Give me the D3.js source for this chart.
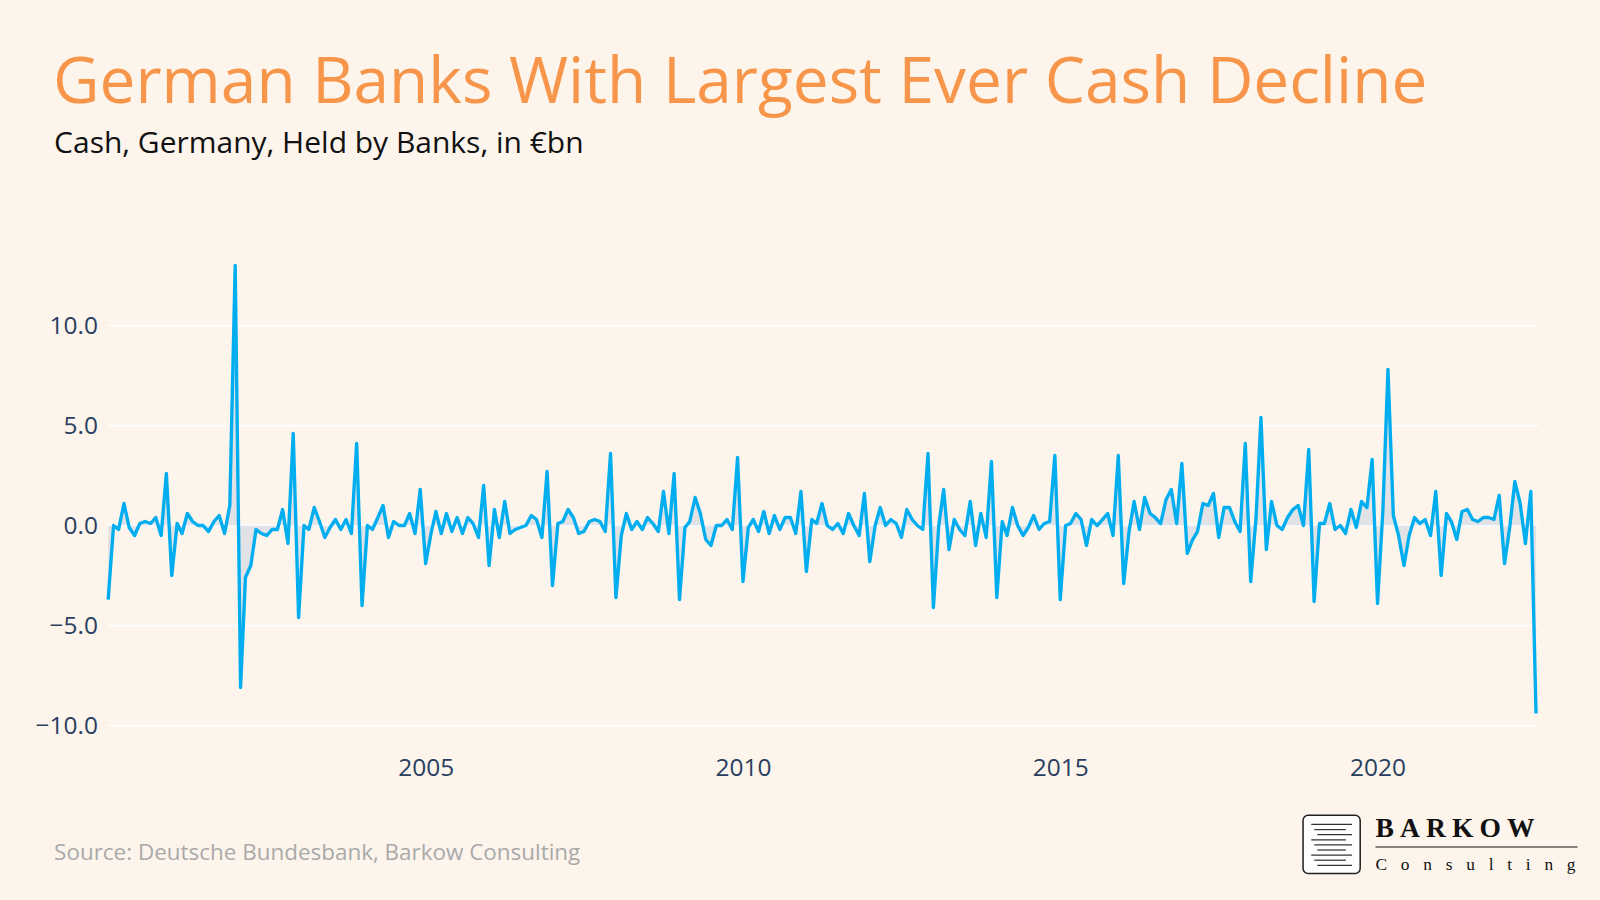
<!DOCTYPE html>
<html><head><meta charset="utf-8">
<script src="https://cdn.jsdelivr.net/npm/d3@7"></script>
<style>body{margin:0;background:#fdf5ec;}svg{display:block;font-family:"Open Sans",sans-serif;}</style>
</head><body>
<svg id="c" width="1600" height="900"></svg>
<script>
const startYear = 2000, startMonth = 0;
const values = [
-3.7,0.0,-0.2,1.1,-0.1,-0.5,0.1,0.2,0.1,0.4,-0.5,2.6,
-2.5,0.1,-0.4,0.6,0.2,0.0,0.0,-0.3,0.2,0.5,-0.4,1.0,
13.0,-8.1,-2.6,-2.0,-0.2,-0.4,-0.5,-0.2,-0.2,0.8,-0.9,4.6,
-4.6,0.0,-0.2,0.9,0.2,-0.6,-0.1,0.3,-0.2,0.3,-0.4,4.1,
-4.0,0.0,-0.2,0.4,1.0,-0.6,0.2,0.0,0.0,0.6,-0.4,1.8,
-1.9,-0.4,0.7,-0.4,0.6,-0.3,0.4,-0.4,0.4,0.1,-0.6,2.0,
-2.0,0.8,-0.6,1.2,-0.4,-0.2,-0.1,0.0,0.5,0.3,-0.6,2.7,
-3.0,0.1,0.2,0.8,0.4,-0.4,-0.3,0.2,0.3,0.2,-0.3,3.6,
-3.6,-0.5,0.6,-0.2,0.2,-0.2,0.4,0.1,-0.3,1.7,-0.4,2.6,
-3.7,-0.1,0.2,1.4,0.6,-0.7,-1.0,0.0,0.0,0.3,-0.2,3.4,
-2.8,-0.1,0.3,-0.3,0.7,-0.4,0.5,-0.2,0.4,0.4,-0.4,1.7,
-2.3,0.3,0.1,1.1,0.0,-0.2,0.1,-0.4,0.6,0.0,-0.5,1.6,
-1.8,0.0,0.9,0.0,0.3,0.1,-0.6,0.8,0.3,0.0,-0.2,3.6,
-4.1,0.0,1.8,-1.2,0.3,-0.2,-0.5,1.2,-1.0,0.6,-0.6,3.2,
-3.6,0.2,-0.5,0.9,0.0,-0.5,-0.1,0.5,-0.2,0.1,0.2,3.5,
-3.7,0.0,0.1,0.6,0.3,-1.0,0.3,0.0,0.3,0.6,-0.5,3.5,
-2.9,-0.3,1.2,-0.2,1.4,0.6,0.4,0.1,1.3,1.8,0.1,3.1,
-1.4,-0.7,-0.3,1.1,1.0,1.6,-0.6,0.9,0.9,0.2,-0.3,4.1,
-2.8,0.4,5.4,-1.2,1.2,0.0,-0.2,0.4,0.8,1.0,0.0,3.8,
-3.8,0.1,0.1,1.1,-0.2,0.0,-0.4,0.8,-0.1,1.2,0.9,3.3,
-3.9,0.8,7.8,0.5,-0.5,-2.0,-0.5,0.4,0.1,0.3,-0.5,1.7,
-2.5,0.6,0.2,-0.7,0.7,0.8,0.3,0.2,0.4,0.4,0.3,1.5,
-1.9,0.0,2.2,1.1,-0.9,1.7,-9.4
];
const yTicks = [10,5,0,-5,-10];
const yTickLabels = ["10.0","5.0","0.0","\u22125.0","\u221210.0"];
const xTickYears = [2005,2010,2015,2020];

const data = values.map((v,i)=>({d:new Date(startYear, startMonth+i, 1), v}));
const root = d3.select("#c");
root.append("rect").attr("width",1600).attr("height",900).attr("fill","#fdf5ec");
const svg = root.append("g").attr("transform","scale(1.0204)");
const x = d3.scaleTime().domain([data[0].d, new Date(2020,0,1)]).range([106,1350]);
const y = d3.scaleLinear().domain([-10,10]).range([711,319]);

svg.append("g").selectAll("line").data(yTicks).join("line")
  .attr("x1",106).attr("x2",1508).attr("y1",d=>y(d)).attr("y2",d=>y(d))
  .attr("stroke","#ffffff").attr("stroke-width",d=>d===0?2:1.5);

const yAxis = d3.axisLeft(y).tickValues(yTicks).tickSize(0).tickPadding(10)
  .tickFormat((d,i)=>yTickLabels[i]);
const gy = svg.append("g").attr("transform","translate(106,0)").call(yAxis);
gy.select(".domain").remove();
gy.selectAll("text").attr("font-size",24).attr("fill","#2a3f5f").attr("font-family","Open Sans");

const xAxis = d3.axisBottom(x).tickValues(xTickYears.map(yr=>new Date(yr,0,1))).tickSize(0).tickPadding(0)
  .tickFormat(d3.timeFormat("%Y"));
const gx = svg.append("g").attr("transform","translate(0,743)").call(xAxis);
gx.select(".domain").remove();
gx.selectAll("text").attr("font-size",24).attr("fill","#2a3f5f").attr("font-family","Open Sans");

svg.append("path").datum(data)
  .attr("d", d3.area().x(d=>x(d.d)).y0(y(0)).y1(d=>y(d.v)))
  .attr("fill","rgba(190,205,225,0.45)");
svg.append("path").datum(data)
  .attr("d", d3.line().x(d=>x(d.d)).y(d=>y(d.v)))
  .attr("fill","none").attr("stroke","#00aeef").attr("stroke-width",3.3).attr("stroke-linejoin","round");

svg.append("text").attr("x",52).attr("y",101).attr("font-size",62.7).attr("fill","#f7964a")
  .attr("font-family","Open Sans").text("German Banks With Largest Ever Cash Decline");
svg.append("text").attr("x",53).attr("y",150).attr("font-size",29.4).attr("fill","#111")
  .text("Cash, Germany, Held by Banks, in \u20acbn");
svg.append("text").attr("x",53).attr("y",843).attr("font-size",22).attr("fill","#a9a9a9")
  .text("Source: Deutsche Bundesbank, Barkow Consulting");

// logo
const lg = svg.append("g");
lg.append("rect").attr("x",1277).attr("y",799).attr("width",56).attr("height",57).attr("rx",5)
  .attr("fill","#fff").attr("stroke","#222").attr("stroke-width",1.5);
[0,1,2,3,4,5,6,7,8].forEach(i=>{
  lg.append("line").attr("x1",1285+(i%3)*3).attr("x2",1325-(i%2)*6)
    .attr("y1",808+i*5).attr("y2",808+i*5).attr("stroke","#333").attr("stroke-width",1.2);
});
lg.append("text").attr("x",1348).attr("y",820).attr("font-size",27).attr("font-weight","bold")
  .attr("font-family","Liberation Serif").attr("letter-spacing",6).attr("fill","#111").text("BARKOW");
lg.append("line").attr("x1",1348).attr("x2",1546).attr("y1",830).attr("y2",830).attr("stroke","#111");
lg.append("text").attr("x",1348).attr("y",853).attr("font-size",17)
  .attr("font-family","Liberation Serif").attr("letter-spacing",13.5).attr("fill","#111").text("Consulting");
</script>
</body></html>
